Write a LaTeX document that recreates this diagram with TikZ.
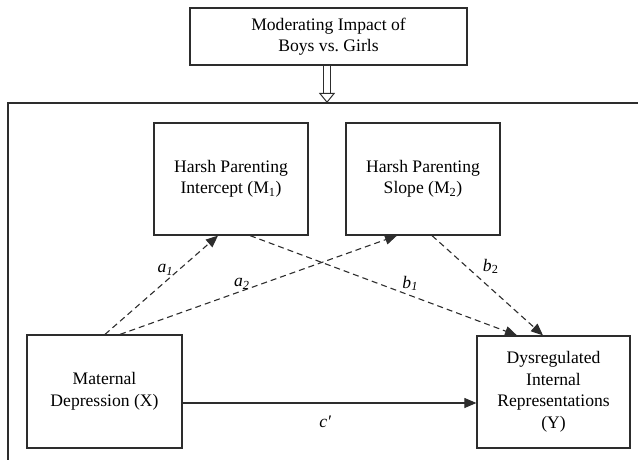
\documentclass[tikz,border=0pt]{standalone}
\usepackage{fontspec}
\setmainfont{Liberation Serif}
\usetikzlibrary{arrows.meta,positioning,calc}
\definecolor{ink}{RGB}{45,45,45}
\tikzset{
  box/.style   ={rectangle, draw=ink, line width=1.2pt, align=center,
                 inner sep=0pt, font=\fontsize{17.6}{21.5}\selectfont},
  link/.style  ={-{Triangle[length=12pt, width=10pt]}, line width=1.1pt, draw=ink},
  dlink/.style ={link, dash pattern=on 6pt off 4pt},
  hollow/.style={draw=ink, double, double distance=6pt, line width=1pt,
                 -{Triangle[open, length=10pt, width=16pt]}},
  coef/.style  ={font=\fontsize{17.6}{20}\selectfont\itshape, inner sep=1pt},
}

\begin{document}
\begin{tikzpicture}[x=1pt, y=-1pt]
    \useasboundingbox (0,0) rectangle (638,460);
    % moderator and frame
    \node[box, minimum width=277pt, minimum height=57pt] (mod) at (328.5,36.5)
        {Moderating Impact of\\ Boys vs.\ Girls};
    \coordinate (ftop) at (327,103);
    \draw[draw=ink, line width=1.2pt] (640,103) -- (8,103) -- (8,462);
    \draw[hollow] (mod.south -| ftop) -- (ftop);
    % model
    \node[box, minimum width=154pt, minimum height=112pt] (m1) at (231,179)
        {Harsh Parenting\\ Intercept (M\textsubscript{1})};
    \node[box, minimum width=154pt, minimum height=112pt] (m2) at (423,179)
        {Harsh Parenting\\ Slope (M\textsubscript{2})};
    \node[box, minimum width=155pt, minimum height=113pt] (x) at (104.5,391.5)
        {Maternal\\ Depression (X)};
    \node[box, minimum width=153pt, minimum height=112pt] (y) at (553.5,392)
        {Dysregulated\\ Internal\\ Representations\\ (Y)};
    \draw[dlink] ($(x.north)+(0.5,0)$) -- ($(m1.south)+(-13,0)$)
        node[coef, pos=.58, anchor=south east, xshift=4pt] {a\textsubscript{1}};
    \draw[dlink] ($(x.north)+(15.5,0)$) -- ($(m2.south)+(-26,0)$)
        node[coef, pos=.44, anchor=south] {a\textsubscript{2}};
    \draw[dlink] ($(m1.south)+(19,0)$) -- ($(y.north)+(-36.5,0)$)
        node[coef, pos=.6, anchor=south, yshift=3pt] {b\textsubscript{1}};
    \draw[dlink] ($(m2.south)+(9,0)$) -- ($(y.north)+(-10.5,0)$)
        node[coef, pos=.4, anchor=south west, xshift=5pt] {b\textsubscript{\upshape 2}};
    \draw[link] ($(x.east)+(0,11.5)$) -- ($(y.west)+(0,11)$)
        node[coef, pos=.485, below=11pt] {c′};
\end{tikzpicture}
\end{document}
